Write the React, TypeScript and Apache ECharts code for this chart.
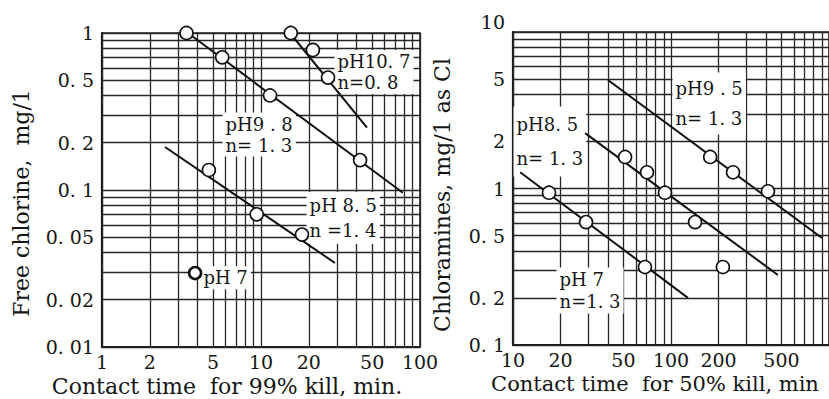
import React, { useEffect, useRef } from 'react';
import * as echarts from 'echarts';

const FONT = 'DejaVu Serif';
const INK = '#151515';

// ---------- Left panel: free chlorine vs contact time for 99% kill ----------
const leftXTicks = [1, 2, 5, 10, 20, 50, 100];
const leftYTicks = [0.01, 0.02, 0.05, 0.1, 0.2, 0.5, 1];
const leftYTickText = ['0. 01', '0. 02', '0. 05', '0. 1', '0. 2', '0. 5', '1'];

const pH107Line = [[15.2, 1.0], [46.4, 0.25]];
const pH107Points = [[15.4, 1.0], [21.2, 0.78], [26.4, 0.52]];
const pH98Line = [[3.47, 1.0], [78, 0.096]];
const pH98Points = [[3.4, 1.0], [5.7, 0.7], [11.4, 0.4], [42, 0.155]];
const pH85LeftLine = [[2.49, 0.188], [29.2, 0.0343]];
const pH85LeftPoints = [[4.7, 0.134], [9.4, 0.07], [18.1, 0.052]];
const pH7LeftPoints = [[3.85, 0.0296]];

const leftNotes = [
  { text: 'pH10. 7\nn=0. 8', t: 29.2, c: 0.775 },
  { text: 'pH9 . 8\nn= 1. 3', t: 5.77, c: 0.309 },
  { text: 'pH 8. 5\nn =1. 4', t: 19.5, c: 0.0964 },
  { text: 'pH 7', t: 4.19, c: 0.0324 },
];
const leftNoteLineHeights = [21, 21, 25, 21];

// ---------- Right panel: chloramines vs contact time for 50% kill ----------
const rightXTicks = [10, 20, 50, 100, 200, 500];
const rightYTicks = [0.1, 0.2, 0.5, 1, 2, 5, 10];
const rightYTickText = ['0. 1', '0. 2', '0. 5', '1', '2', '5', '10'];

const pH95Line = [[39.9, 4.93], [903, 0.483]];
const pH95Points = [[177, 1.59], [247, 1.27], [411, 0.96]];
const pH85RightLine = [[28.6, 2.26], [475, 0.28]];
const pH85RightPoints = [[51.2, 1.59], [70.5, 1.27], [91.6, 0.94], [142, 0.61], [213, 0.315]];
const pH7RightLine = [[11.1, 1.27], [128, 0.2]];
const pH7RightPoints = [[16.9, 0.94], [29, 0.61], [68.4, 0.315]];

const rightNotes = [
  { text: 'pH9 . 5\nn= 1. 3', t: 103, c: 5.47 },
  { text: 'pH8. 5\nn= 1. 3', t: 10.15, c: 3.32 },
  { text: 'pH 7\nn=1. 3', t: 19.0, c: 0.31 },
];
const rightNoteLineHeights = [30, 34, 22];

// log-paper rulings: 1..9 within each decade
const decadeLines = (from: number, to: number) => {
  const out: number[] = [];
  for (let d = from; d < to; d *= 10) {
    for (let k = 1; k <= 9; k++) out.push(+(d * k).toPrecision(6));
  }
  out.push(to);
  return out;
};

const labelOf = (ticks: number[], texts: string[]) => (v: number) => {
  const i = ticks.findIndex((t) => Math.abs(t - v) / t < 1e-6);
  return i >= 0 ? texts[i] : '';
};

export default function App() {
  const ref = useRef<HTMLDivElement>(null);

  useEffect(() => {
    document.body.style.margin = '0';
    if (!ref.current) return;
    const chart = echarts.init(ref.current, undefined, { renderer: 'svg' });

    const tickLabel = { fontFamily: FONT, fontSize: 19, color: INK };
    const nameStyle = { fontFamily: FONT, fontSize: 22, color: INK };

    const gridSeries = (idx: number, xs: number[], ys: number[]) => ({
      type: 'line',
      xAxisIndex: idx,
      yAxisIndex: idx,
      data: [],
      silent: true,
      z: 1,
      markLine: {
        silent: true,
        z: 1,
        symbol: ['none', 'none'],
        label: { show: false },
        emphasis: { disabled: true },
        lineStyle: { color: '#262626', width: 1.3, type: 'solid', opacity: 1 },
        data: [...xs.map((v) => ({ xAxis: v })), ...ys.map((v) => ({ yAxis: v }))],
      },
    });

    const fitLine = (idx: number, data: number[][]) => ({
      type: 'line',
      xAxisIndex: idx,
      yAxisIndex: idx,
      data,
      symbol: 'none',
      showSymbol: false,
      silent: true,
      z: 3,
      lineStyle: { color: '#111', width: 2 },
    });

    const circles = (idx: number, data: number[][], size = 13, bw = 1.6) => ({
      type: 'scatter',
      xAxisIndex: idx,
      yAxisIndex: idx,
      data,
      symbol: 'circle',
      symbolSize: size,
      silent: true,
      z: 4,
      itemStyle: { color: '#fff', borderColor: '#111', borderWidth: bw, opacity: 1 },
    });

    const notes = (idx: number, list: { text: string; t: number; c: number }[], lh: number[]) => ({
      type: 'scatter',
      xAxisIndex: idx,
      yAxisIndex: idx,
      silent: true,
      z: 2,
      symbolSize: 1,
      itemStyle: { color: 'rgba(0,0,0,0)', opacity: 1 },
      data: list.map((n, i) => ({
        value: [n.t, n.c],
        name: n.text,
        label: { lineHeight: lh[i] },
      })),
      label: {
        show: true,
        position: [0, 0],
        formatter: '{b}',
        align: 'left',
        verticalAlign: 'top',
        fontFamily: FONT,
        fontSize: 18,
        color: INK,
        opacity: 1,
        backgroundColor: '#fff',
        padding: [1, 3],
      },
    });

    chart.setOption({
      animation: false,
      backgroundColor: '#fff',
      grid: [
        { left: 102, top: 33, width: 318, height: 314, show: true, borderColor: '#222', borderWidth: 1.6, outerBoundsMode: 'none' },
        { left: 513, top: 32, width: 316, height: 313, show: true, borderColor: '#222', borderWidth: 1.6, outerBoundsMode: 'none' },
      ],
      xAxis: [
        {
          gridIndex: 0,
          type: 'log',
          logBase: 10,
          min: 1,
          max: 100,
          axisLine: { show: true, onZero: false, lineStyle: { color: '#1a1a1a', width: 2.2 } },
          axisTick: { show: false },
          splitLine: { show: false },
          axisLabel: { ...tickLabel, customValues: leftXTicks, margin: 5, formatter: (v: number) => String(v) },
          name: 'Contact time  for 99% kill, min.',
          nameLocation: 'middle',
          nameGap: 27,
          nameTextStyle: { ...nameStyle, padding: [0, 68, 0, 0] },
        },
        {
          gridIndex: 1,
          type: 'log',
          logBase: 10,
          min: 10,
          max: 1000,
          axisLine: { show: true, onZero: false, lineStyle: { color: '#1a1a1a', width: 2.2 } },
          axisTick: { show: false },
          splitLine: { show: false },
          axisLabel: { ...tickLabel, customValues: rightXTicks, margin: 5, formatter: (v: number) => String(v) },
          name: 'Contact time  for 50% kill, min',
          nameLocation: 'middle',
          nameGap: 28,
          nameTextStyle: { ...nameStyle, fontSize: 21, padding: [0, 32, 0, 0] },
        },
      ],
      yAxis: [
        {
          gridIndex: 0,
          type: 'log',
          logBase: 10,
          min: 0.01,
          max: 1,
          axisLine: { show: true, onZero: false, lineStyle: { color: '#1a1a1a', width: 2.2 } },
          axisTick: { show: false },
          splitLine: { show: false },
          axisLabel: { ...tickLabel, customValues: leftYTicks, margin: 8, formatter: labelOf(leftYTicks, leftYTickText) },
          name: 'Free chlorine,  mg/1',
          nameLocation: 'middle',
          nameGap: 70,
          nameTextStyle: { ...nameStyle, padding: [0, 26, 0, 0] },
        },
        {
          gridIndex: 1,
          type: 'log',
          logBase: 10,
          min: 0.1,
          max: 10,
          axisLine: { show: true, onZero: false, lineStyle: { color: '#1a1a1a', width: 2.2 } },
          axisTick: { show: false },
          splitLine: { show: false },
          axisLabel: {
            ...tickLabel,
            customValues: rightYTicks,
            margin: 8,
            formatter: (v: number) => {
              const s = labelOf(rightYTicks, rightYTickText)(v);
              return v >= 9.99 ? '{top|' + s + '}' : s;
            },
            rich: { top: { fontFamily: FONT, fontSize: 19, color: INK, padding: [0, 0, 20, 0] } },
          },
          name: 'Chloramines, mg/1 as Cl',
          nameLocation: 'middle',
          nameGap: 60,
          nameTextStyle: { ...nameStyle, padding: [0, 13, 0, 0] },
        },
      ],
      series: [
        gridSeries(0, decadeLines(1, 100), decadeLines(0.01, 1)),
        gridSeries(1, decadeLines(10, 1000), decadeLines(0.1, 10)),
        notes(0, leftNotes, leftNoteLineHeights),
        notes(1, rightNotes, rightNoteLineHeights),
        fitLine(0, pH107Line),
        fitLine(0, pH98Line),
        fitLine(0, pH85LeftLine),
        circles(0, pH107Points),
        circles(0, pH98Points),
        circles(0, pH85LeftPoints),
        circles(0, pH7LeftPoints, 12, 2.6),
        fitLine(1, pH95Line),
        fitLine(1, pH85RightLine),
        fitLine(1, pH7RightLine),
        circles(1, pH95Points),
        circles(1, pH85RightPoints),
        circles(1, pH7RightPoints),
      ],
    });

    return () => chart.dispose();
  }, []);

  return <div ref={ref} style={{ width: 829, height: 399 }} />;
}
